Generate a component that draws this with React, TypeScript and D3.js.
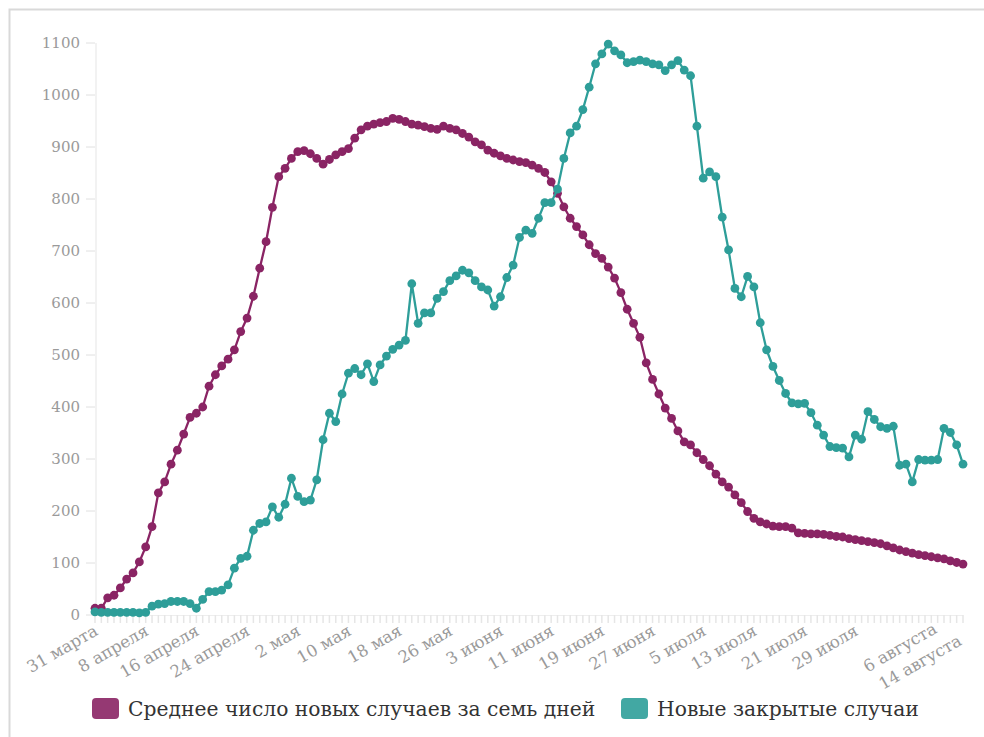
import React from "react";
import * as d3 from "d3";

const tickLabels = ["31 марта","8 апреля","16 апреля","24 апреля","2 мая","10 мая","18 мая","26 мая","3 июня","11 июня","19 июня","27 июня","5 июля","13 июля","21 июля","29 июля","6 августа","14 августа"];

const avgNewCases = [
  13,13,33,38,52,69,81,102,131,170,
  235,256,290,317,348,380,388,400,440,462,
  479,492,510,545,571,613,667,718,784,843,
  859,878,891,893,887,878,867,876,885,891,
  897,917,933,940,944,947,949,955,953,949,
  944,942,939,936,934,940,936,933,926,919,
  910,904,894,888,883,878,875,872,870,865,
  859,851,833,811,785,763,747,731,712,695,
  686,669,648,620,588,561,534,485,453,425,
  398,378,354,333,327,312,299,287,271,256,
  246,231,216,199,186,179,175,171,170,170,
  167,158,157,156,156,155,153,151,150,147,
  145,143,141,139,137,133,129,125,122,119,
  116,114,112,110,108,104,101,98
];

const newClosed = [
  6,5,5,5,5,5,5,4,5,
  17,21,22,26,26,26,22,13,
  30,45,45,48,58,90,109,113,163,176,179,208,188,213,263,228,218,221,260,337,388,
  372,425,465,474,462,483,449,481,498,511,519,528,637,561,581,581,609,622,643,652,663,
  658,643,631,625,594,612,649,673,726,740,734,763,793,793,819,878,927,940,972,
  1015,1060,1079,1098,1085,1077,1062,1064,1067,1064,1060,1058,1047,1058,1066,1048,1037,940,840,852,843,765,702,628,612,651,631,562,
  510,478,451,426,408,406,407,389,365,346,324,322,321,304,346,338,391,376,362,359,363,288,290,256,299,298,298,299,359,351,327,290
];

const yTicks = [0,100,200,300,400,500,600,700,800,900,1000,1100];
const seriesNames = ["Среднее число новых случаев за семь дней", "Новые закрытые случаи"];

const MAGENTA = "#8a2464";
const TEAL = "#2e9e99";
const FONT = "'DejaVu Serif', serif";

export default function App() {
  const W = 984, H = 737;
  const n = avgNewCases.length;
  const x = d3.scaleLinear().domain([0, n - 1]).range([95, 963]);
  const y = d3.scaleLinear().domain([0, 1100]).range([615, 43]);
  const line = d3.line<number>().x((_, i) => x(i)).y(d => y(d));
  const days = d3.range(n);

  const series = [
    { values: avgNewCases, color: MAGENTA },
    { values: newClosed, color: TEAL },
  ];

  // small nudges for the last two labels, as in the original (collision offsets)
  const labelShift = (k: number) => {
    if (k === 16) return [28, -2];
    if (k === 17) return [2, 10];
    return [0, 0];
  };

  return (
    <svg width={W} height={H} style={{ position: "absolute", left: 0, top: 0, background: "#fff" }}>
      <rect x={9.5} y={9.5} width={990} height={760} fill="none" stroke="#d9d9d9" strokeWidth={2} />
      {/* y axis */}
      <line x1={96} x2={96} y1={y(1100)} y2={y(0)} stroke="#eeeeee" strokeWidth={1.5} />
      {yTicks.map(t => (
        <g key={t}>
          <line x1={86} x2={95} y1={y(t)} y2={y(t)} stroke="#e0e0e0" />
          <text x={80} y={y(t)} dy="0.35em" textAnchor="end" fontFamily={FONT} fontSize={15} fill="#9a9a9a">{t}</text>
        </g>
      ))}
      {/* x axis */}
      <line x1={x(0)} x2={x(n - 1)} y1={y(0) + 0.5} y2={y(0) + 0.5} stroke="#eeeeee" />
      {days.map(i => (
        <line key={i} x1={x(i)} x2={x(i)} y1={y(0)} y2={y(0) + 8} stroke="#e6e6e6" strokeWidth={1.5} />
      ))}
      {tickLabels.map((lab, k) => {
        const [sx, sy] = labelShift(k);
        const tx = x(k * 8) + 4 + sx;
        const ty = 634 + sy;
        return (
          <text key={lab} transform={`translate(${tx},${ty}) rotate(-30)`} textAnchor="end"
            fontFamily={FONT} fontSize={16.5} fill="#9a9a9a">{lab}</text>
        );
      })}
      {/* series */}
      {series.map((s, si) => (
        <g key={si}>
          <path d={line(s.values) || ""} fill="none" stroke={s.color} strokeWidth={2.3} />
          {s.values.map((v, i) => (
            <circle key={i} cx={x(i)} cy={y(v)} r={4.4} fill={s.color} />
          ))}
        </g>
      ))}
      {/* legend */}
      <rect x={92} y={698} width={27} height={21} rx={4} fill={MAGENTA} opacity={0.9} />
      <text x={128} y={716} fontFamily={FONT} fontSize={20.3} fill="#333">{seriesNames[0]}</text>
      <rect x={621} y={698} width={27} height={21} rx={4} fill={TEAL} opacity={0.9} />
      <text x={657} y={716} fontFamily={FONT} fontSize={20.3} fill="#333">{seriesNames[1]}</text>
    </svg>
  );
}
